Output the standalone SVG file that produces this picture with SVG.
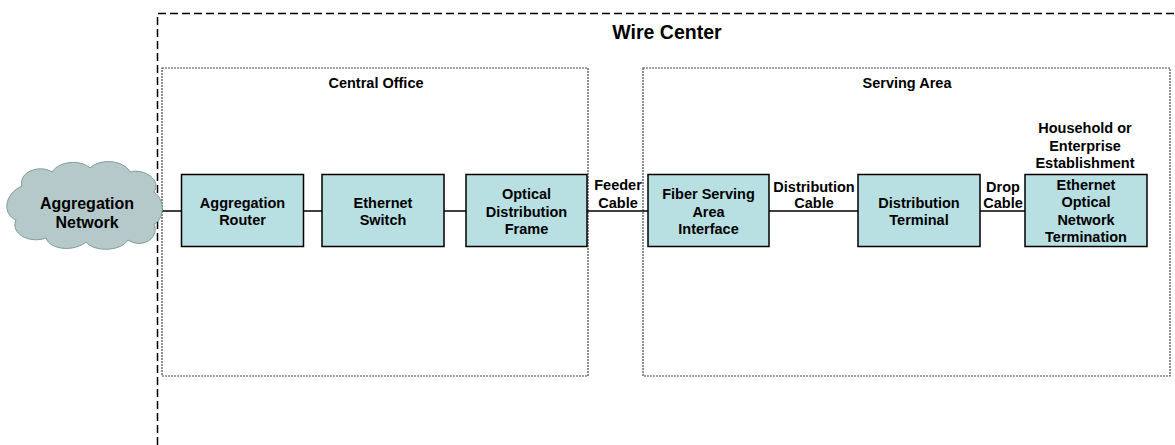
<svg xmlns="http://www.w3.org/2000/svg" width="1175" height="445" viewBox="0 0 1175 445">
<style>
text{font-family:"Liberation Sans",Arial,sans-serif;font-weight:bold;fill:#000;text-anchor:middle}
.t{font-size:14.5px}
.box{fill:#b8dfe1;stroke:#000;stroke-width:1.5}
.area{fill:none;stroke:#444;stroke-width:1.2;stroke-dasharray:2 1}
.conn{stroke:#000;stroke-width:1.5;fill:none}
</style>
<rect width="1175" height="445" fill="#fff"/>
<g id="wire-center">
<path d="M157.5 445 V13.5 H1175" fill="none" stroke="#000" stroke-width="1.5" stroke-dasharray="8 4"/>
<text x="667" y="39" style="font-size:19.5px">Wire Center</text>
</g>
<g id="central-office">
<rect class="area" x="162" y="68" width="426" height="308"/>
<text class="t" x="376" y="88">Central Office</text>
</g>
<g id="serving-area">
<rect class="area" x="643" y="68" width="527" height="308"/>
<text class="t" x="907" y="88">Serving Area</text>
</g>
<g id="household-label">
<text class="t" x="1085" y="133">Household or</text>
<text class="t" x="1085" y="151">Enterprise</text>
<text class="t" x="1085" y="168">Establishment</text>
</g>
<g id="connectors">
<line class="conn" x1="160" y1="211" x2="181" y2="211"/>
<line class="conn" x1="304" y1="211" x2="322" y2="211"/>
<line class="conn" x1="444" y1="211" x2="466" y2="211"/>
<line class="conn" x1="587" y1="211" x2="648" y2="211"/>
<line class="conn" x1="769" y1="211" x2="858" y2="211"/>
<line class="conn" x1="980" y1="211" x2="1025" y2="211"/>
<text class="t" x="618" y="190">Feeder</text>
<text class="t" x="618" y="208">Cable</text>
<text class="t" x="814" y="192">Distribution</text>
<text class="t" x="814" y="208">Cable</text>
<text class="t" x="1003" y="192">Drop</text>
<text class="t" x="1003" y="208">Cable</text>
</g>
<g id="aggregation-network">
<path d="M22 186 C18 172 40 164 52 172 C60 160 82 160 90 168 C100 158 124 160 130 172 C144 168 162 180 154 192 C166 200 164 220 154 224 C160 236 144 250 128 240 C120 252 94 252 86 242 C74 252 50 250 46 238 C30 244 10 234 16 220 C2 214 4 194 22 186 Z" fill="#b5c9ca" stroke="#7f9a9b" stroke-width="1"/>
<text x="87" y="209" style="font-size:16px">Aggregation</text>
<text x="87" y="228" style="font-size:16px">Network</text>
</g>
<g id="aggregation-router">
<rect class="box" x="181.5" y="174.5" width="122" height="72"/>
<text class="t" x="242.5" y="208">Aggregation</text>
<text class="t" x="242.5" y="225">Router</text>
</g>
<g id="ethernet-switch">
<rect class="box" x="322" y="174.5" width="122" height="72"/>
<text class="t" x="383" y="208">Ethernet</text>
<text class="t" x="383" y="225">Switch</text>
</g>
<g id="optical-distribution-frame">
<rect class="box" x="466" y="174.5" width="121" height="72"/>
<text class="t" x="526.5" y="199">Optical</text>
<text class="t" x="526.5" y="217">Distribution</text>
<text class="t" x="526.5" y="234">Frame</text>
</g>
<g id="fiber-serving-area-interface">
<rect class="box" x="648" y="174.5" width="121" height="72"/>
<text class="t" x="708.5" y="199">Fiber Serving</text>
<text class="t" x="708.5" y="217">Area</text>
<text class="t" x="708.5" y="234">Interface</text>
</g>
<g id="distribution-terminal">
<rect class="box" x="858" y="174.5" width="122" height="72"/>
<text class="t" x="919" y="208">Distribution</text>
<text class="t" x="919" y="225">Terminal</text>
</g>
<g id="ethernet-ont">
<rect class="box" x="1025" y="174.5" width="122" height="72"/>
<text class="t" x="1086" y="190">Ethernet</text>
<text class="t" x="1086" y="207">Optical</text>
<text class="t" x="1086" y="225">Network</text>
<text class="t" x="1086" y="242">Termination</text>
</g>
</svg>
